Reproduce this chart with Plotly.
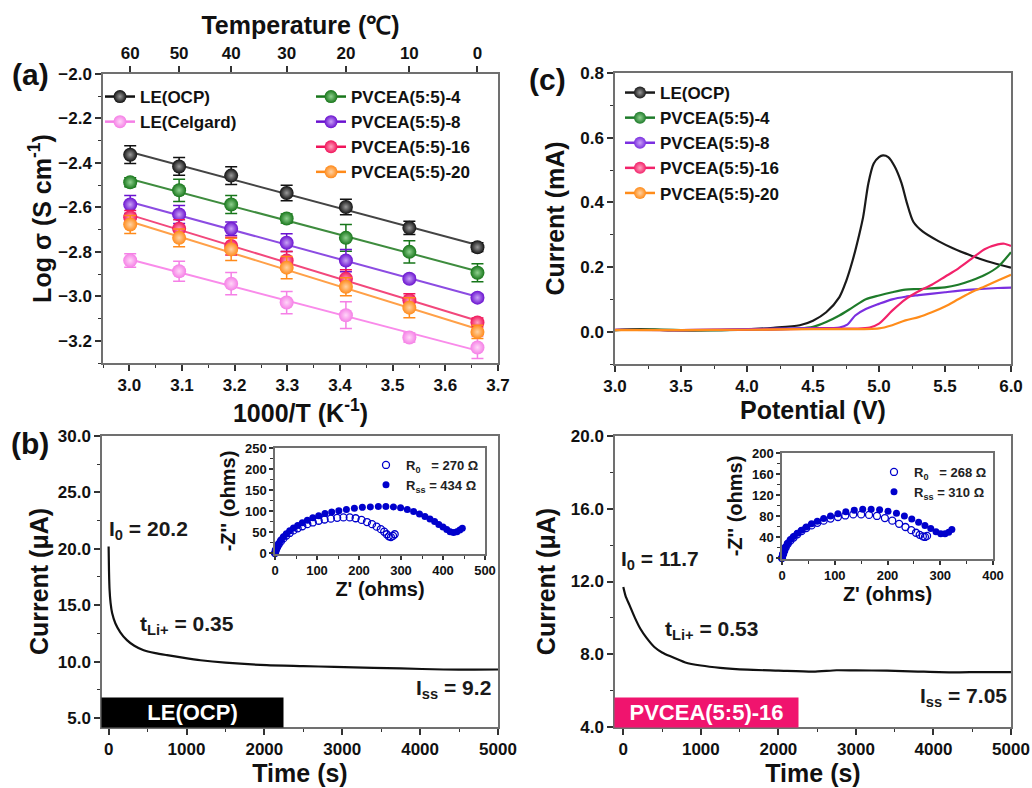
import numpy as np
import plotly.graph_objects as go

FONT = "Liberation Sans, Arial, sans-serif"
W, H = 1032, 788

# ---------------- Panel (a) data ----------------
temp_c = [60, 50, 40, 30, 20, 10, 0]
temp_ticks = [60, 50, 40, 30, 20, 10, 0]
logs_ocp = [-2.363, -2.416, -2.457, -2.535, -2.598, -2.692, -2.779]
logs_celg = [-2.839, -2.887, -2.943, -3.028, -3.085, -3.185, -3.230]
logs_4 = [-2.487, -2.523, -2.587, -2.650, -2.737, -2.800, -2.894]
logs_8 = [-2.587, -2.632, -2.696, -2.759, -2.839, -2.921, -3.006]
logs_16 = [-2.644, -2.696, -2.774, -2.839, -2.921, -3.018, -3.118]
logs_20 = [-2.677, -2.737, -2.789, -2.871, -2.957, -3.051, -3.160]
err_ocp = [0.04, 0.04, 0.04, 0.035, 0.035, 0.03, 0.02]
err_celg = [0.03, 0.045, 0.05, 0.05, 0.06, 0.02, 0.05]
err_4 = [0.02, 0.05, 0.04, 0.02, 0.06, 0.05, 0.04]
err_8 = [0.04, 0.04, 0.03, 0.04, 0.05, 0.015, 0.015]
err_16 = [0.03, 0.04, 0.04, 0.04, 0.04, 0.03, 0.02]
err_20 = [0.04, 0.04, 0.05, 0.05, 0.04, 0.045, 0.03]

# ---------------- Panel (c) data ----------------
v_ocp = [3.0, 3.2, 3.4, 3.6, 3.8, 4.0, 4.2, 4.4, 4.5, 4.6, 4.7, 4.75, 4.8, 4.85, 4.88, 4.92,
         4.96, 5.0, 5.03, 5.07, 5.12, 5.17, 5.21, 5.26, 5.33, 5.45, 5.56, 5.7, 5.82, 6.0]
c_ocp = [0.005, 0.008, 0.004, 0.004, 0.005, 0.007, 0.012, 0.02, 0.034, 0.06, 0.107, 0.155, 0.22,
         0.30, 0.355, 0.46, 0.52, 0.54, 0.545, 0.54, 0.51, 0.46, 0.40, 0.34, 0.31, 0.28, 0.258,
         0.235, 0.218, 0.198]
v_4 = [3.0, 3.3, 3.6, 4.0, 4.4, 4.5, 4.6, 4.7, 4.8, 4.9, 5.0, 5.1, 5.2, 5.3, 5.5, 5.6, 5.7, 5.8, 5.9, 6.0]
c_4 = [0.005, 0.007, 0.004, 0.006, 0.01, 0.015, 0.03, 0.05, 0.075, 0.1, 0.112, 0.122, 0.13, 0.132,
       0.137, 0.145, 0.158, 0.175, 0.2, 0.246]
v_8 = [3.0, 3.5, 4.0, 4.5, 4.7, 4.76, 4.82, 4.9, 5.0, 5.1, 5.2, 5.3, 5.5, 5.7, 5.9, 6.0]
c_8 = [0.006, 0.005, 0.008, 0.011, 0.013, 0.022, 0.05, 0.07, 0.086, 0.1, 0.108, 0.113, 0.122, 0.13, 0.135, 0.136]
v_16 = [3.0, 3.5, 4.0, 4.5, 4.93, 5.0, 5.1, 5.2, 5.3, 5.4, 5.5, 5.6, 5.7, 5.8, 5.9, 5.95, 6.0]
c_16 = [0.006, 0.005, 0.006, 0.009, 0.013, 0.025, 0.065, 0.1, 0.125, 0.145, 0.17, 0.195, 0.225,
        0.255, 0.27, 0.272, 0.265]
v_20 = [3.0, 3.5, 4.0, 4.5, 5.0, 5.1, 5.2, 5.3, 5.4, 5.5, 5.6, 5.7, 5.8, 5.9, 6.0]
c_20 = [0.005, 0.005, 0.006, 0.008, 0.01, 0.02, 0.035, 0.045, 0.06, 0.078, 0.1, 0.122, 0.14, 0.158, 0.176]

# ---------------- Panel (b) data ----------------
t_le = [0, 5, 12, 25, 45, 86, 150, 235, 330, 450, 600, 750, 950, 1180, 1500, 2030, 2500, 2900,
        3400, 3750, 4300, 4700, 5000]
i_le = [20.2, 18.0, 16.4, 15.2, 14.3, 13.4, 12.6, 11.9, 11.4, 11.0, 10.75, 10.57, 10.35, 10.12,
        9.9, 9.68, 9.6, 9.53, 9.45, 9.39, 9.3, 9.28, 9.3]
t_pv = [0, 30, 80, 150, 220, 300, 400, 500, 600, 800, 1000, 1250, 1600, 2000, 2450, 2750, 3000,
        3400, 3800, 4250, 4600, 5000]
i_pv = [11.7, 11.2, 10.7, 10.0, 9.4, 8.9, 8.4, 8.1, 7.9, 7.55, 7.38, 7.25, 7.15, 7.1, 7.04, 7.12,
        7.11, 7.1, 7.05, 7.0, 7.02, 7.02]

# Nyquist insets
zre_open_L = [0, 2, 5, 9, 14, 20, 27, 35, 44, 54, 65, 77, 90, 104, 118, 133, 148, 163, 178, 192,
              206, 219, 231, 242, 252, 260, 266, 271, 276, 281, 285]
zim_open_L = [0, 7, 14, 21, 28, 35, 42, 48, 54, 59, 64, 69, 73, 77, 80, 82, 84, 85, 85, 83, 79,
              74, 69, 63, 57, 51, 45, 40, 38, 41, 45]
zre_fill_L = [0, 2, 5, 9, 14, 20, 27, 35, 44, 54, 65, 77, 90, 104, 119, 135, 152, 170, 189, 208,
              227, 246, 264, 282, 299, 315, 330, 344, 357, 369, 380, 390, 400, 409, 417, 425, 433,
              440, 446]
zim_fill_L = [0, 8, 15, 23, 31, 39, 46, 53, 60, 66, 72, 78, 84, 89, 94, 98, 101, 104, 107, 109,
              110, 111, 111, 110, 108, 104, 99, 93, 87, 81, 75, 68, 62, 56, 51, 49, 51, 55, 59]
zre_open_R = [0, 2, 4, 7, 11, 16, 22, 29, 37, 46, 56, 67, 79, 92, 106, 120, 135, 150, 165, 180,
              195, 209, 222, 234, 245, 254, 261, 267, 271, 275]
zim_open_R = [0, 7, 13, 20, 27, 33, 39, 45, 51, 57, 62, 67, 71, 75, 78, 81, 83, 83, 82, 80, 76,
              71, 65, 59, 53, 48, 44, 41, 40, 42]
zre_fill_R = [0, 2, 4, 7, 11, 16, 22, 29, 37, 46, 56, 67, 79, 92, 106, 121, 137, 153, 169, 185,
              201, 217, 232, 246, 259, 271, 282, 292, 301, 309, 316, 322]
zim_fill_R = [0, 7, 14, 21, 28, 35, 41, 47, 53, 59, 65, 70, 75, 80, 84, 88, 91, 93, 93, 92, 89,
              85, 80, 74, 68, 62, 56, 50, 46, 46, 49, 54]

names_a = ["LE(OCP)", "LE(Celgard)", "PVCEA(5:5)-4", "PVCEA(5:5)-8", "PVCEA(5:5)-16", "PVCEA(5:5)-20"]
logs_all = [logs_ocp, logs_celg, logs_4, logs_8, logs_16, logs_20]
errs_all = [err_ocp, err_celg, err_4, err_8, err_16, err_20]
mcol = ["#111111", "#F57FE6", "#17761A", "#6A12D0", "#F0145A", "#FF8A1A"]
lcol = ["#444444", "#F98BEA", "#3E8C3E", "#8C4CE2", "#F2487C", "#FFA048"]
hcol = ["#9A9A9A", "#FFD6F8", "#8FD08F", "#C9A2F5", "#FFA3BF", "#FFD2A3"]

names_c = ["LE(OCP)", "PVCEA(5:5)-4", "PVCEA(5:5)-8", "PVCEA(5:5)-16", "PVCEA(5:5)-20"]
v_all = [v_ocp, v_4, v_8, v_16, v_20]
c_all = [c_ocp, c_4, c_8, c_16, c_20]
ccol = ["#1A1A1A", "#1E7B2A", "#7B2FE0", "#F2226A", "#FF8C1A"]
chl = ["#9A9A9A", "#8FD08F", "#C9A2F5", "#FFA3BF", "#FFD2A3"]

BLUE = "#0000CC"


def px_x(p):
    return p / W


def px_y(p):
    return 1 - p / H


fig = go.Figure()

inv_t = [1000.0 / (t + 273.15) for t in temp_c]

# ---- panel (a) ----
for i, nm in enumerate(names_a):
    slope, icpt = np.polyfit(inv_t, logs_all[i], 1)
    xs = [min(inv_t), max(inv_t)]
    fig.add_trace(go.Scatter(x=xs, y=[slope * x + icpt for x in xs], mode="lines",
                             line=dict(color=lcol[i], width=2), showlegend=False,
                             xaxis="x", yaxis="y", hoverinfo="skip"))
for i, nm in enumerate(names_a):
    fig.add_trace(go.Scatter(x=inv_t, y=logs_all[i], mode="markers", showlegend=False,
                             error_y=dict(type="data", array=errs_all[i], color=mcol[i],
                                          thickness=1.5, width=6),
                             marker=dict(size=14, color=mcol[i],
                                         gradient=dict(type="radial", color=hcol[i]),
                                         line=dict(width=0)),
                             xaxis="x", yaxis="y"))
for i, nm in enumerate(names_a):
    fig.add_trace(go.Scatter(x=[None], y=[None], mode="lines+markers", name=nm,
                             line=dict(color=mcol[i], width=2.5),
                             marker=dict(size=13, color=mcol[i],
                                         gradient=dict(type="radial", color=hcol[i])),
                             xaxis="x", yaxis="y",
                             legend="legend" if i < 2 else "legend2"))
fig.add_trace(go.Scatter(x=[None], y=[None], xaxis="x2", yaxis="y", showlegend=False))

# ---- panel (c) ----
for i, nm in enumerate(names_c):
    fig.add_trace(go.Scatter(x=v_all[i], y=c_all[i], mode="lines", showlegend=False,
                             line=dict(color=ccol[i], width=2.2, shape="spline", smoothing=0.8),
                             xaxis="x3", yaxis="y3"))
for i, nm in enumerate(names_c):
    fig.add_trace(go.Scatter(x=[None], y=[None], mode="lines+markers", name=nm,
                             line=dict(color=ccol[i], width=2.5),
                             marker=dict(size=12, color=ccol[i],
                                         gradient=dict(type="radial", color=chl[i])),
                             xaxis="x3", yaxis="y3", legend="legend3"))

# ---- panel (b) ----
fig.add_trace(go.Scatter(x=t_le, y=i_le, mode="lines", showlegend=False,
                         line=dict(color="#111111", width=2.2, shape="spline", smoothing=0.6),
                         xaxis="x4", yaxis="y4"))
fig.add_trace(go.Scatter(x=t_pv, y=i_pv, mode="lines", showlegend=False,
                         line=dict(color="#111111", width=2.2, shape="spline", smoothing=0.6),
                         xaxis="x6", yaxis="y6"))

fig.add_trace(go.Scatter(x=zre_open_L, y=zim_open_L, mode="markers", name="R<sub>0</sub>   = 270 Ω",
                         marker=dict(symbol="circle-open", size=7, color=BLUE, line=dict(width=1.3)),
                         xaxis="x5", yaxis="y5", legend="legend4", cliponaxis=False))
fig.add_trace(go.Scatter(x=zre_fill_L, y=zim_fill_L, mode="markers", name="R<sub>ss</sub> = 434 Ω",
                         marker=dict(symbol="circle", size=7, color=BLUE),
                         xaxis="x5", yaxis="y5", legend="legend4", cliponaxis=False))
fig.add_trace(go.Scatter(x=zre_open_R, y=zim_open_R, mode="markers", name="R<sub>0</sub>   = 268 Ω",
                         marker=dict(symbol="circle-open", size=7, color=BLUE, line=dict(width=1.3)),
                         xaxis="x7", yaxis="y7", legend="legend5", cliponaxis=False))
fig.add_trace(go.Scatter(x=zre_fill_R, y=zim_fill_R, mode="markers", name="R<sub>ss</sub> = 310 Ω",
                         marker=dict(symbol="circle", size=7, color=BLUE),
                         xaxis="x7", yaxis="y7", legend="legend5", cliponaxis=False))

FRAME = "#707070"
tickf = dict(family=FONT, size=17, color="#111111", weight="bold")
titlef = dict(family=FONT, size=25, color="#111111", weight="bold")
itickf = dict(family=FONT, size=13, color="#111111", weight="bold")
ititlef = dict(family=FONT, size=20, color="#111111", weight="bold")


def ax(**kw):
    base = dict(showline=True, linecolor=FRAME, linewidth=1.5, mirror=True, ticks="outside",
                ticklen=6, tickwidth=1.5, tickcolor="#333333", showgrid=False, zeroline=False,
                tickfont=tickf, automargin=False)
    base.update(kw)
    return base


def minor(d):
    return dict(ticks="outside", ticklen=3, tickwidth=1.2, tickcolor="#333333", dtick=d,
                showgrid=False)


top_pos = [1000.0 / (t + 273.15) for t in temp_ticks]

fig.update_layout(
    width=W, height=H, margin=dict(l=0, r=0, t=0, b=0, autoexpand=False),
    paper_bgcolor="white", plot_bgcolor="white",
    font=dict(family=FONT, color="#111111"),
    xaxis=ax(domain=[px_x(103), px_x(498)], range=[2.95, 3.7], anchor="y", dtick=0.1,
             tick0=3.0, tickformat=".1f", minor=minor(0.05),
             title=dict(text="1000/T (K<sup>-1</sup>)", font=titlef, standoff=6)),
    xaxis2=ax(domain=[px_x(103), px_x(498)], range=[2.95, 3.7], overlaying="x", anchor="y",
              side="top", tickmode="array", tickvals=top_pos, ticktext=[str(t) for t in temp_ticks],
              title=dict(text="Temperature (℃)", font=titlef, standoff=3)),
    yaxis=ax(domain=[px_y(363), px_y(74)], range=[-3.3, -2.0], anchor="x", dtick=0.2,
             tick0=-2.0, tickformat=".1f", minor=minor(0.1),
             title=dict(text="Log σ (S cm<sup>-1</sup>)", font=titlef, standoff=0)),
    xaxis3=ax(domain=[px_x(615), px_x(1011)], range=[3.0, 6.0], anchor="y3", dtick=0.5,
              tickformat=".1f", minor=minor(0.25),
              title=dict(text="Potential (V)", font=titlef, standoff=6)),
    yaxis3=ax(domain=[px_y(364), px_y(73)], range=[-0.1, 0.8], anchor="x3", dtick=0.2, tick0=0,
              tickformat=".1f", minor=minor(0.1),
              title=dict(text="Current (mA)", font=titlef, standoff=8)),
    xaxis4=ax(domain=[px_x(102), px_x(498)], range=[-85, 5000], anchor="y4", dtick=1000,
              tick0=0, minor=minor(500),
              title=dict(text="Time (s)", font=titlef, standoff=4)),
    yaxis4=ax(domain=[px_y(727), px_y(436)], range=[4.2, 30], anchor="x4", dtick=5, tick0=5,
              tickformat=".1f", minor=minor(2.5),
              title=dict(text="Current (μA)", font=titlef, standoff=2)),
    xaxis6=ax(domain=[px_x(615), px_x(1011)], range=[-107, 5000], anchor="y6", dtick=1000,
              tick0=0, minor=minor(500),
              title=dict(text="Time (s)", font=titlef, standoff=4)),
    yaxis6=ax(domain=[px_y(727), px_y(436)], range=[4, 20], anchor="x6", dtick=4, tick0=4,
              tickformat=".1f", minor=minor(2),
              title=dict(text="Current (μA)", font=titlef, standoff=8)),
    xaxis5=ax(domain=[px_x(275), px_x(485)], range=[0, 500], anchor="y5", dtick=100, tick0=0,
              minor=minor(50), tickfont=itickf, ticklen=4,
              title=dict(text="Z' (ohms)", font=ititlef, standoff=4)),
    yaxis5=ax(domain=[px_y(554), px_y(448)], range=[-2, 250], anchor="x5", dtick=50, tick0=0,
              minor=minor(25), tickfont=itickf, ticklen=4,
              title=dict(text="-Z'' (ohms)", font=ititlef, standoff=4)),
    xaxis7=ax(domain=[px_x(782), px_x(993)], range=[0, 400], anchor="y7", dtick=100, tick0=0,
              minor=minor(50), tickfont=itickf, ticklen=4,
              title=dict(text="Z' (ohms)", font=ititlef, standoff=4)),
    yaxis7=ax(domain=[px_y(559), px_y(453)], range=[-2, 200], anchor="x7", dtick=40, tick0=0,
              minor=minor(20), tickfont=itickf, ticklen=4,
              title=dict(text="-Z'' (ohms)", font=ititlef, standoff=4)),
)

legf = dict(family=FONT, size=17, color="#111111", weight="bold")
fig.update_layout(
    legend=dict(x=px_x(100), y=px_y(79), xanchor="left", yanchor="top", font=legf,
                bgcolor="rgba(0,0,0,0)", itemwidth=30, tracegroupgap=0),
    legend2=dict(x=px_x(311), y=px_y(79), xanchor="left", yanchor="top", font=legf,
                 bgcolor="rgba(0,0,0,0)", itemwidth=30),
    legend3=dict(x=px_x(620), y=px_y(75), xanchor="left", yanchor="top", font=legf,
                 bgcolor="rgba(0,0,0,0)", itemwidth=30),
    legend4=dict(x=px_x(484), y=px_y(450), xanchor="right", yanchor="top",
                 font=dict(family=FONT, size=13, color="#222222", weight="bold"),
                 bgcolor="rgba(0,0,0,0)", itemwidth=30),
    legend5=dict(x=px_x(992), y=px_y(457), xanchor="right", yanchor="top",
                 font=dict(family=FONT, size=13, color="#222222", weight="bold"),
                 bgcolor="rgba(0,0,0,0)", itemwidth=30),
)

labf = dict(family=FONT, size=30, color="#111111", weight="bold")
annf = dict(family=FONT, size=21, color="#1a1a1a", weight="bold")
anns = [
    dict(text="(a)", x=px_x(30), y=px_y(74), font=labf),
    dict(text="(b)", x=px_x(30), y=px_y(443), font=labf),
    dict(text="(c)", x=px_x(547), y=px_y(80), font=labf),
    dict(text="I<sub>0</sub> = 20.2", x=px_x(148), y=px_y(530), font=annf),
    dict(text="t<sub>Li+</sub> = 0.35", x=px_x(187), y=px_y(625), font=annf),
    dict(text="I<sub>ss</sub> = 9.2", x=px_x(453), y=px_y(689), font=annf),
    dict(text="I<sub>0</sub> = 11.7", x=px_x(660), y=px_y(560), font=annf),
    dict(text="t<sub>Li+</sub> = 0.53", x=px_x(711), y=px_y(630), font=annf),
    dict(text="I<sub>ss</sub> = 7.05", x=px_x(963), y=px_y(697), font=annf),
    dict(text="LE(OCP)", x=px_x(192.5), y=px_y(712), bgcolor="#000000", width=181, height=29,
         borderpad=0, font=dict(family=FONT, size=22, color="white", weight="bold")),
    dict(text="PVCEA(5:5)-16", x=px_x(706.5), y=px_y(712), bgcolor="#F0146E", width=183, height=29,
         borderpad=0, font=dict(family=FONT, size=22, color="white", weight="bold")),
]
for a in anns:
    a.update(xref="paper", yref="paper", showarrow=False, xanchor="center", yanchor="middle")
fig.update_layout(annotations=anns)

fig.write_html("out.html", config={"displayModeBar": False},
               post_script="document.body.style.margin='0px';")
